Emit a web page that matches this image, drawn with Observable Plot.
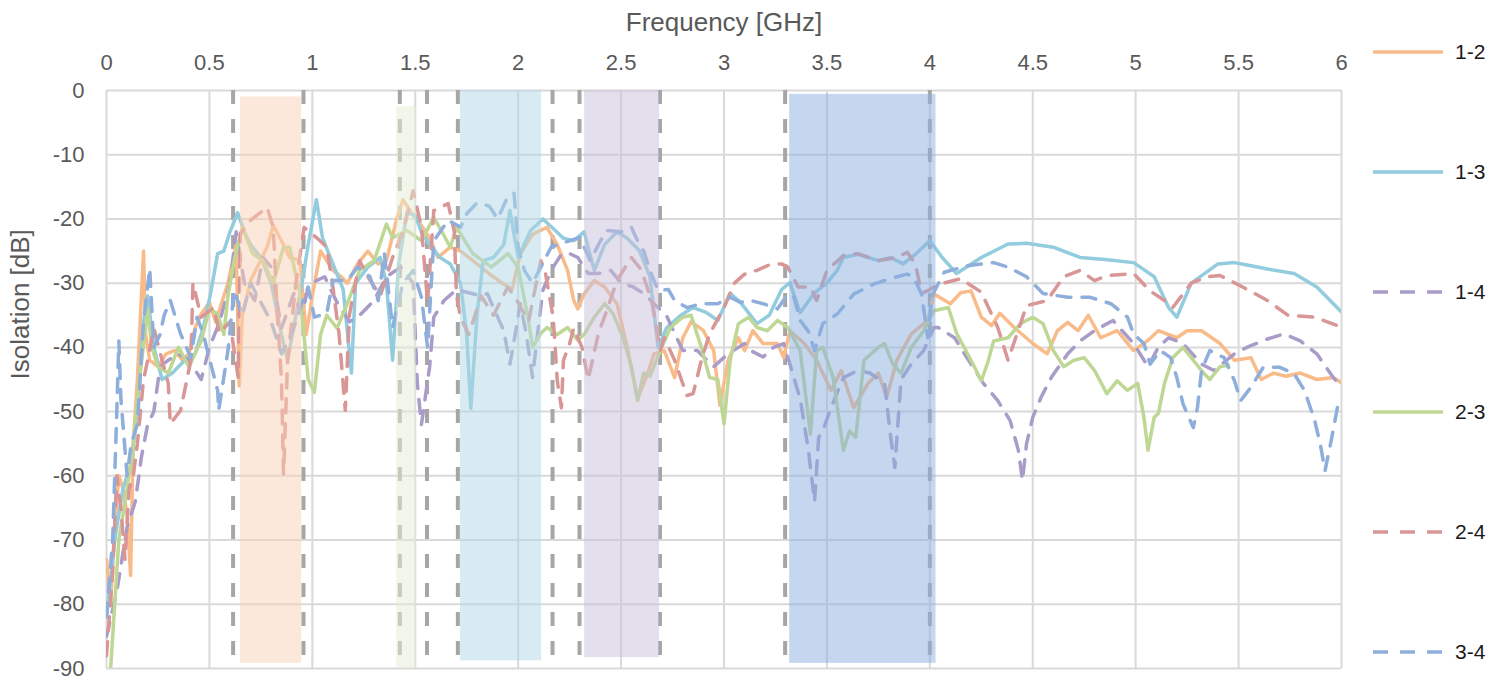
<!DOCTYPE html>
<html><head><meta charset="utf-8">
<script src="https://cdn.jsdelivr.net/npm/d3@7"></script>
<script src="https://cdn.jsdelivr.net/npm/@observablehq/plot@0.6"></script>
<style>
body{margin:0;background:#fff;font-family:"Liberation Sans",Arial,sans-serif;}
#wrap{position:relative;width:1498px;height:682px;overflow:hidden;}
#wrap svg{position:absolute;left:0;top:0;}
</style></head><body><div id="wrap"></div>
<script>
// ---- tick labels ----
const xTicks = [0,0.5,1,1.5,2,2.5,3,3.5,4,4.5,5,5.5,6];
const yTicks = [0,-10,-20,-30,-40,-50,-60,-70,-80,-90];
const xTitle = "Frequency [GHz]";
const yTitle = "Isolation [dB]";

// ---- series ----
const seriesNames = ["1-2","1-3","1-4","2-3","2-4","3-4"];
const seriesColors = ["#f9bb89","#92ccde","#a99cc8","#bfd794","#d99696","#8eaedb"];
const seriesDashed = [false,false,true,false,true,true];

const s12 = [[0.0,-73],[0.02,-80],[0.04,-68],[0.06,-60],[0.08,-62],[0.1,-66],[0.117,-75.5],[0.13,-55],[0.15,-45],[0.165,-35],[0.18,-25],[0.19,-38],[0.21,-42],[0.25,-43],[0.29,-41],[0.33,-40.5],[0.37,-42],[0.4,-41],[0.43,-37],[0.46,-34.8],[0.5,-33],[0.53,-36],[0.56,-33],[0.59,-30],[0.61,-27],[0.63,-24],[0.645,-46],[0.66,-35],[0.7,-29.6],[0.74,-27],[0.78,-24.4],[0.81,-21],[0.85,-23.4],[0.89,-26],[0.94,-26.5],[0.97,-38],[1.0,-32],[1.04,-25],[1.1,-28],[1.14,-29],[1.17,-30],[1.22,-27],[1.27,-25],[1.32,-27],[1.36,-26.5],[1.41,-20],[1.44,-17],[1.48,-19],[1.53,-21],[1.57,-23],[1.61,-26],[1.67,-24.4],[1.72,-25],[1.78,-26.5],[1.87,-28.8],[1.95,-30.6],[1.97,-31],[2.01,-25.5],[2.07,-22.4],[2.14,-21.3],[2.19,-24],[2.24,-28],[2.27,-32.7],[2.29,-34],[2.32,-31.7],[2.37,-29.6],[2.42,-30.6],[2.48,-33.2],[2.53,-40],[2.58,-48],[2.63,-44],[2.66,-41],[2.71,-40.5],[2.76,-44.7],[2.8,-38.5],[2.84,-36],[2.9,-37.4],[2.95,-40.5],[2.98,-49],[3.02,-42],[3.07,-38.5],[3.1,-40.5],[3.14,-37.4],[3.19,-39.4],[3.26,-39.4],[3.29,-41.6],[3.32,-37.4],[3.39,-39.4],[3.45,-42],[3.52,-46.7],[3.57,-43.6],[3.63,-49.4],[3.7,-45.6],[3.75,-44],[3.79,-47.8],[3.84,-42],[3.91,-37.9],[3.99,-35.8],[4.02,-31.7],[4.1,-33.2],[4.15,-31.5],[4.2,-31.2],[4.25,-35.3],[4.3,-36.6],[4.34,-34.7],[4.41,-36.9],[4.5,-39.4],[4.57,-41],[4.62,-37.4],[4.67,-36.1],[4.72,-37.4],[4.77,-35],[4.83,-38.5],[4.91,-37.4],[4.99,-40.5],[5.06,-38.9],[5.11,-37.4],[5.2,-38.5],[5.25,-37.4],[5.32,-37.4],[5.41,-39.4],[5.48,-42],[5.56,-41.6],[5.61,-45],[5.67,-44],[5.73,-44.5],[5.8,-44],[5.88,-45],[5.96,-44.7],[6.0,-45.5]];

const s13 = [[0.0,-82],[0.04,-70],[0.08,-62],[0.12,-58],[0.15,-50],[0.18,-36],[0.2,-32],[0.23,-40],[0.27,-45],[0.32,-44],[0.38,-42],[0.43,-41],[0.47,-37],[0.505,-31.7],[0.54,-25.4],[0.57,-25],[0.6,-22],[0.637,-19],[0.67,-22],[0.7,-24],[0.75,-26],[0.8,-30],[0.85,-38],[0.88,-42],[0.92,-35],[0.95,-30],[0.98,-24],[1.02,-17],[1.05,-23],[1.1,-27],[1.15,-31],[1.19,-44],[1.21,-30],[1.27,-27.5],[1.33,-26],[1.36,-30],[1.39,-42],[1.42,-27],[1.46,-19],[1.5,-19.5],[1.53,-22],[1.57,-24],[1.62,-26],[1.67,-27],[1.72,-30],[1.75,-38],[1.77,-49.5],[1.8,-35],[1.83,-26.5],[1.88,-26],[1.93,-24],[1.96,-18.7],[2.0,-26],[2.06,-21.8],[2.12,-20],[2.17,-21.5],[2.22,-23],[2.27,-23.4],[2.32,-22],[2.37,-28],[2.42,-24],[2.48,-22],[2.53,-23],[2.59,-25],[2.64,-29],[2.68,-40],[2.72,-37],[2.79,-35],[2.85,-33.8],[2.91,-34.5],[2.97,-35.8],[3.03,-31.6],[3.08,-33],[3.16,-36.3],[3.22,-35],[3.28,-31],[3.32,-29.9],[3.37,-34.6],[3.44,-31.5],[3.5,-30],[3.55,-28],[3.58,-26],[3.65,-25.5],[3.75,-26.5],[3.81,-26],[3.87,-27],[3.93,-25.5],[4.0,-23.4],[4.06,-26],[4.13,-28.5],[4.25,-26],[4.38,-23.9],[4.47,-23.8],[4.6,-24.4],[4.73,-26],[4.85,-26.3],[4.99,-26.8],[5.09,-29],[5.16,-33.8],[5.2,-35.3],[5.27,-30],[5.4,-27],[5.48,-26.8],[5.56,-27.3],[5.64,-27.8],[5.77,-28.5],[5.88,-30.6],[6.0,-34.5]];

const s14 = [[0.0,-85],[0.05,-78],[0.1,-68],[0.14,-64],[0.17,-57],[0.2,-52],[0.23,-50],[0.26,-43],[0.3,-42],[0.35,-41],[0.4,-42],[0.46,-45],[0.5,-40],[0.55,-36],[0.6,-30],[0.63,-22],[0.67,-30],[0.72,-32.7],[0.76,-26],[0.8,-27.5],[0.85,-37],[0.91,-31.6],[0.95,-35],[0.98,-30.6],[1.02,-29.6],[1.06,-29],[1.12,-33],[1.18,-36],[1.23,-35],[1.3,-32.7],[1.36,-29],[1.43,-27.5],[1.49,-30],[1.51,-45.6],[1.53,-52],[1.57,-43],[1.59,-35.3],[1.64,-32.7],[1.7,-31],[1.76,-31.5],[1.82,-32],[1.85,-31.6],[1.88,-33.8],[1.93,-37.4],[1.96,-42.6],[1.98,-39],[2.01,-33.2],[2.04,-38],[2.07,-44.7],[2.09,-39],[2.12,-31.1],[2.16,-28],[2.21,-25.5],[2.25,-25.4],[2.29,-26],[2.34,-28.5],[2.39,-28.5],[2.45,-28],[2.5,-30],[2.56,-30.6],[2.61,-31.6],[2.66,-33.2],[2.72,-35],[2.76,-37.8],[2.8,-40.5],[2.87,-40.5],[2.95,-43],[3.02,-41],[3.1,-39.4],[3.13,-40.5],[3.19,-41.5],[3.24,-40],[3.29,-39.4],[3.32,-42.6],[3.37,-48],[3.41,-56],[3.44,-64],[3.46,-54],[3.48,-53],[3.52,-49.4],[3.58,-44.7],[3.65,-43.6],[3.71,-44],[3.78,-45.6],[3.81,-54],[3.83,-58.7],[3.86,-45],[3.91,-42.6],[3.97,-40.5],[4.02,-36.9],[4.04,-36.9],[4.12,-38.5],[4.18,-41.6],[4.26,-45.6],[4.33,-48.3],[4.39,-51.4],[4.43,-56],[4.45,-60.7],[4.47,-55],[4.5,-50.9],[4.54,-47.8],[4.59,-44.7],[4.67,-41],[4.73,-39],[4.8,-37.4],[4.89,-35.8],[4.99,-39.4],[5.06,-43],[5.11,-40],[5.16,-38.5],[5.23,-39.4],[5.32,-42.6],[5.38,-43.6],[5.48,-41],[5.54,-40],[5.64,-38.7],[5.72,-37.9],[5.8,-39],[5.88,-41],[5.96,-44.7],[6.0,-46.2]];

const s23 = [[0.02,-90],[0.04,-80],[0.06,-70],[0.1,-62],[0.13,-55],[0.16,-45],[0.2,-34],[0.22,-40],[0.25,-43],[0.3,-44],[0.35,-40],[0.4,-43],[0.46,-39],[0.5,-34],[0.54,-34.8],[0.57,-38],[0.59,-32],[0.62,-26.5],[0.66,-21.3],[0.71,-25.4],[0.76,-26.5],[0.81,-30],[0.86,-24.4],[0.89,-24.4],[0.94,-31.7],[0.98,-45],[1.01,-47],[1.04,-38],[1.07,-35],[1.12,-37],[1.17,-33.2],[1.23,-28],[1.3,-26.5],[1.36,-20.8],[1.39,-22.9],[1.46,-21.8],[1.53,-23.4],[1.59,-19.8],[1.63,-22],[1.67,-24.4],[1.7,-21.3],[1.78,-25.4],[1.87,-27.5],[1.95,-25.4],[2.0,-27.5],[2.05,-35.8],[2.07,-40],[2.11,-37.8],[2.14,-36.9],[2.19,-38],[2.24,-36.9],[2.29,-38.9],[2.32,-38],[2.37,-35.3],[2.42,-33.2],[2.46,-34.7],[2.51,-38.5],[2.55,-43],[2.58,-48.3],[2.61,-44],[2.64,-44.5],[2.69,-40.5],[2.74,-36.9],[2.8,-35.3],[2.84,-35],[2.89,-40],[2.93,-44.7],[2.97,-45],[3.0,-51.9],[3.03,-42],[3.07,-36.3],[3.12,-35.3],[3.16,-36.9],[3.21,-37.4],[3.26,-35.8],[3.31,-36.9],[3.37,-40.5],[3.42,-53.5],[3.45,-40.5],[3.48,-40],[3.53,-44.7],[3.58,-56],[3.61,-53],[3.64,-54],[3.68,-42],[3.75,-40],[3.78,-39.4],[3.82,-42.6],[3.86,-44],[3.91,-40],[3.97,-37.4],[4.02,-34.3],[4.09,-33.8],[4.13,-37.8],[4.2,-42],[4.25,-45.2],[4.28,-42.5],[4.31,-39],[4.38,-38.5],[4.44,-36.3],[4.5,-35.3],[4.55,-36.3],[4.6,-40.5],[4.65,-43],[4.7,-42],[4.75,-41.6],[4.8,-43.6],[4.86,-47.2],[4.91,-45.2],[4.96,-46.7],[5.01,-45.6],[5.04,-50.9],[5.06,-56],[5.09,-50.9],[5.11,-50.3],[5.14,-45.6],[5.18,-41.6],[5.23,-40],[5.28,-42],[5.33,-44],[5.36,-45],[5.41,-43],[5.45,-42.8]];

const s24 = [[0.0,-88],[0.03,-75],[0.05,-60],[0.07,-65],[0.09,-73],[0.11,-62],[0.13,-60],[0.15,-55],[0.18,-45],[0.2,-42],[0.23,-37],[0.27,-42],[0.3,-45.6],[0.31,-51.9],[0.36,-49.8],[0.41,-42],[0.42,-30],[0.46,-35.3],[0.52,-33.8],[0.55,-37.8],[0.6,-36],[0.62,-40.5],[0.64,-44.7],[0.65,-22.3],[0.7,-20.2],[0.78,-18.2],[0.81,-21.3],[0.83,-35],[0.85,-45],[0.86,-59.7],[0.88,-42],[0.92,-30],[0.96,-21.3],[1.02,-22.9],[1.07,-24.4],[1.1,-30.6],[1.13,-38],[1.16,-49.8],[1.18,-35],[1.23,-26.5],[1.27,-29],[1.33,-32],[1.39,-26],[1.44,-22],[1.49,-15.6],[1.53,-21.3],[1.56,-33],[1.59,-18.7],[1.66,-17.6],[1.69,-22],[1.7,-31.7],[1.72,-35.3],[1.76,-38],[1.82,-32],[1.88,-35],[1.95,-30.6],[2.0,-33],[2.05,-36],[2.11,-26.5],[2.13,-28],[2.17,-35.3],[2.18,-40],[2.19,-45.2],[2.21,-49.4],[2.22,-42],[2.25,-39.4],[2.27,-37],[2.31,-40],[2.34,-45],[2.39,-37.8],[2.43,-34.3],[2.48,-29.6],[2.55,-26],[2.6,-28],[2.65,-33],[2.69,-40.5],[2.71,-38.5],[2.76,-42],[2.82,-47.5],[2.85,-47.2],[2.89,-42],[2.93,-37.9],[3.0,-33.8],[3.05,-30],[3.1,-28.6],[3.16,-28],[3.23,-27],[3.28,-27],[3.31,-27.5],[3.36,-30.6],[3.42,-30.6],[3.45,-32.7],[3.5,-28],[3.58,-25.7],[3.65,-25.4],[3.75,-26.5],[3.84,-26],[3.89,-25.2],[3.93,-27],[3.96,-31.6],[4.0,-31],[4.04,-30.2],[4.15,-29.3],[4.25,-31.4],[4.33,-36.9],[4.38,-42],[4.47,-33.5],[4.57,-32.7],[4.65,-29],[4.73,-28],[4.8,-29.6],[4.86,-28.8],[4.99,-28.5],[5.07,-31.2],[5.14,-32.7],[5.18,-33.8],[5.27,-30],[5.35,-29],[5.41,-28.8],[5.52,-30.6],[5.64,-32.7],[5.74,-35],[5.87,-35.3],[5.98,-36.6],[6.0,-37]];

const s34 = [[0.0,-82],[0.03,-70],[0.05,-50],[0.06,-39],[0.07,-48],[0.09,-56],[0.1,-60],[0.12,-55],[0.15,-52],[0.18,-36],[0.21,-27.7],[0.23,-40],[0.26,-38],[0.28,-35],[0.31,-32.7],[0.36,-37.9],[0.41,-41.6],[0.44,-35.3],[0.47,-37.9],[0.51,-43],[0.54,-46.7],[0.545,-49.8],[0.59,-40.5],[0.62,-31.1],[0.66,-35],[0.7,-30],[0.75,-33],[0.8,-36],[0.85,-41],[0.9,-38],[0.95,-33],[0.98,-30.6],[1.01,-35.3],[1.07,-34.7],[1.1,-29.6],[1.17,-29.6],[1.22,-27.5],[1.28,-29],[1.32,-32.7],[1.35,-25.4],[1.39,-36.9],[1.44,-30],[1.49,-28],[1.53,-32.2],[1.56,-40],[1.59,-23.4],[1.66,-20.2],[1.72,-21.3],[1.75,-19.2],[1.8,-17.5],[1.86,-18],[1.9,-20],[1.95,-16.5],[1.98,-16],[2.0,-24.4],[2.03,-28],[2.07,-30],[2.11,-27.5],[2.16,-24.4],[2.21,-23.8],[2.25,-23.4],[2.3,-22.9],[2.35,-26.5],[2.4,-23.4],[2.43,-21.8],[2.5,-22],[2.55,-21.3],[2.58,-23.4],[2.61,-25],[2.64,-28],[2.68,-31.1],[2.73,-31],[2.76,-32.7],[2.82,-33.8],[2.89,-33.2],[2.97,-33.2],[3.03,-32.2],[3.08,-33],[3.13,-32.7],[3.19,-33.2],[3.26,-34],[3.31,-31.7],[3.34,-32.2],[3.37,-35.8],[3.41,-37.5],[3.44,-40.5],[3.48,-36.3],[3.55,-34.8],[3.63,-31.7],[3.73,-30.1],[3.84,-29],[3.89,-28.6],[3.92,-29],[3.96,-31.7],[3.99,-38.5],[4.01,-32],[4.07,-28.3],[4.18,-27.3],[4.31,-26.8],[4.38,-27.5],[4.47,-29],[4.55,-31.6],[4.67,-32.2],[4.78,-32.2],[4.88,-33.2],[4.96,-35.3],[4.99,-37.9],[5.04,-39.4],[5.07,-42.6],[5.12,-40.5],[5.17,-41.6],[5.2,-44.7],[5.23,-48.8],[5.28,-52.5],[5.3,-49.4],[5.32,-43.6],[5.36,-40.5],[5.43,-41.6],[5.48,-45.2],[5.51,-48.3],[5.56,-46.2],[5.62,-43.1],[5.7,-43.1],[5.77,-44.1],[5.82,-46.7],[5.87,-51.4],[5.9,-55.6],[5.92,-59.2],[5.95,-54.5],[5.98,-49.4],[6.0,-48]];

const seriesData = [s12, s13, s14, s23, s24, s34];

// ---- vertical dashed marker lines (GHz) ----
const markerLines = [0.615, 0.957, 1.425, 1.557, 1.707, 2.167, 2.298, 2.689, 3.297, 4.0];

// ---- shaded bands ----
const bandStart  = [0.651, 1.41, 1.72, 2.323, 3.319];
const bandEnd    = [0.948, 1.506, 2.114, 2.687, 4.03];
const bandTop    = [-1, -2.5, 0, 0, -0.6];
const bandBottom = [-89.2, -90, -88.8, -88.3, -89.2];
const bandColors = ["#f9d1b5", "#e5ebd5", "#b1d7e5", "#c7bfd9", "#8bafdf"];

const FONT = "'Liberation Sans', Arial, sans-serif";
const dash = "14,11";

const lineMarks = seriesData.map((s, i) => Plot.line(s, {
  x: d => d[0], y: d => d[1],
  stroke: seriesColors[i], strokeWidth: 3.5,
  strokeDasharray: seriesDashed[i] ? dash : null,
  strokeLinejoin: "round",
  curve: "linear", clip: true
}));

const bandMarks = bandStart.map((b, i) => Plot.rect([i], {
  x1: () => bandStart[i], x2: () => bandEnd[i],
  y1: () => bandTop[i], y2: () => bandBottom[i],
  fill: bandColors[i], fillOpacity: 0.5
}));

const chart = Plot.plot({
  width: 1498, height: 682,
  marginLeft: 106, marginRight: 157, marginTop: 90, marginBottom: 14,
  x: {domain: [0, 6], axis: null},
  y: {domain: [-90, 0], axis: null},
  style: {fontFamily: FONT, background: "transparent", overflow: "visible"},
  marks: [
    Plot.ruleX(xTicks, {x: d => d, stroke: "#d9d9d9", strokeWidth: 2}),
    Plot.ruleY(yTicks, {y: d => d, stroke: "#d9d9d9", strokeWidth: 2}),
    Plot.text(xTicks, {x: d => d, frameAnchor: "top", lineAnchor: "middle", dy: -28, text: d => String(d), fontSize: 22, fill: "#595959"}),
    Plot.text(yTicks, {y: d => d, frameAnchor: "left", lineAnchor: "middle", dx: -22, textAnchor: "end", text: d => String(d), fontSize: 22, fill: "#595959"}),
    Plot.ruleX(markerLines, {x: d => d, stroke: "#a6a6a6", strokeWidth: 4, strokeDasharray: "14,15"}),
    ...lineMarks,
    ...bandMarks,
    Plot.text([xTitle], {frameAnchor: "top", lineAnchor: "middle", dy: -68, text: d => d, fontSize: 26, fill: "#595959"}),
    Plot.text([yTitle], {frameAnchor: "left", lineAnchor: "middle", dx: -86, rotate: -90, text: d => d, fontSize: 26, fill: "#595959"})
  ]
});

const wrap = document.getElementById("wrap");
wrap.appendChild(chart);

// ---- legend ----
const legendY = [52, 172, 292, 412, 532, 652];
const leg = d3.select(wrap).append("svg")
  .attr("width", 1498).attr("height", 682)
  .style("pointer-events", "none");
seriesNames.forEach((name, i) => {
  leg.append("line")
    .attr("x1", 1373).attr("x2", 1443)
    .attr("y1", legendY[i]).attr("y2", legendY[i])
    .attr("stroke", seriesColors[i]).attr("stroke-width", 3.5)
    .attr("stroke-dasharray", seriesDashed[i] ? "15,12" : null);
  leg.append("text")
    .attr("x", 1455).attr("y", legendY[i]).attr("dy", "0.35em")
    .attr("font-family", FONT).attr("font-size", 21).attr("fill", "#1a1a1a")
    .text(name);
});
</script></body></html>
